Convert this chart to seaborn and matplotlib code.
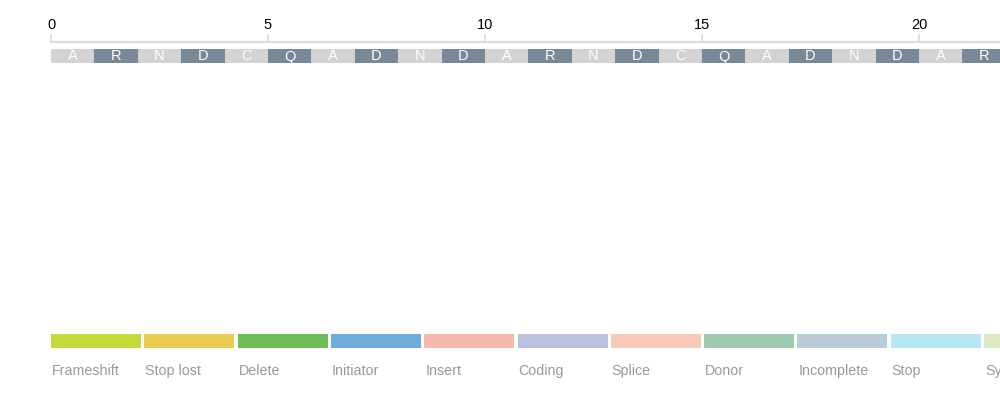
import numpy as np
import matplotlib
matplotlib.use('Agg')
import matplotlib.pyplot as plt
import seaborn as sns

# data
residues = list('ARNDCQADNDARNDCQADNDAR')
tick_vals = [0, 5, 10, 15, 20]
categories = ['Frameshift', 'Stop lost', 'Delete', 'Initiator', 'Insert', 'Coding',
              'Splice', 'Donor', 'Incomplete', 'Stop', 'Synonymous']
cat_colors = ['#c5d93a', '#e8cd50', '#6dbf5a', '#6eaedf', '#f8b8ae', '#bac2de',
              '#f8c8b8', '#9ecab0', '#b8ccd8', '#b8e6f2', '#dbe8c0']

sns.set_style('white')
plt.rcParams['font.family'] = ['Liberation Sans', 'DejaVu Sans']

W, H = 1000, 413
fig = plt.figure(figsize=(W / 100, H / 100), dpi=100)
px_per_unit = 43.4
x0 = 51

# sequence track
ax = fig.add_axes([x0 / W, 1 - 70 / H, (W - x0) / W, 28 / H])
ax.set_xlim(0, (W - x0) / px_per_unit)
ax.set_ylim(70, 42)
pos = np.arange(len(residues))
box_cols = ['#d3d3d3' if i % 2 == 0 else '#778899' for i in pos]
ax.barh(y=56, width=1, left=pos, height=14, color=box_cols, linewidth=0, align='center')
for i, r in enumerate(residues):
    ax.text(i + 0.5, 56.5, r, ha='center', va='center', color='white', fontsize=10.5)
for s in ['left', 'right', 'bottom']:
    ax.spines[s].set_visible(False)
ax.spines['top'].set_color('#dcdcdc')
ax.spines['top'].set_linewidth(1.5)
ax.xaxis.tick_top()
ax.set_xticks(tick_vals)
ax.set_xticklabels([str(t) for t in tick_vals])
ax.tick_params(axis='x', direction='out', length=6, width=1.2, color='#dcdcdc',
               labelsize=10.5, labelcolor='black', pad=1)
ax.set_yticks([])

# legend strip
lg = fig.add_axes([x0 / W, 0, (W - x0) / W, 1 - 330 / H])
lg.set_xlim(0, W - x0)
lg.set_ylim(H, 330)
lg.axis('off')
pitch = 93.3
for i, (c, col) in enumerate(zip(categories, cat_colors)):
    lg.barh(y=341, width=90, left=i * pitch, height=14, color=col, linewidth=0, align='center')
    lg.text(i * pitch + 1, 371, c, ha='left', va='center', color='#999999', fontsize=10.3,
            clip_on=True)

fig.savefig('out.png', dpi=100)
